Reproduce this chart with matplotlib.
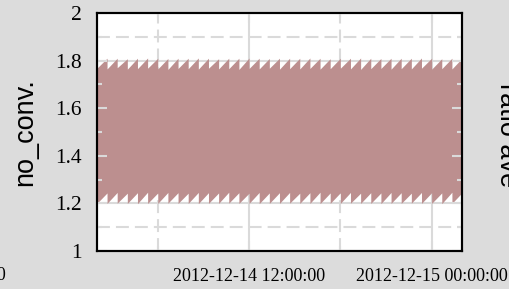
import matplotlib
matplotlib.use("Agg")
import matplotlib.pyplot as plt
import matplotlib.dates as mdates
from matplotlib.ticker import MultipleLocator, StrMethodFormatter
import pandas as pd

plt.rcParams.update({
    "font.family": "Liberation Serif",
    "font.size": 13,
})

C_BG = "#dcdcdc"
C_GRID = "#dadada"
C_FILL = "#bc8f8f"

# one sawtooth cycle every 40 minutes across the day
tooth_edges = pd.date_range("2012-12-14 02:00", "2012-12-15 02:00", freq="40min")

upper_top = [1.810, 1.810, 1.808, 1.810, 1.811, 1.810, 1.809, 1.810, 1.810, 1.811,
             1.810, 1.808, 1.810, 1.810, 1.811, 1.810, 1.809, 1.810, 1.810, 1.810,
             1.811, 1.810, 1.808, 1.810, 1.810, 1.811, 1.810, 1.809, 1.810, 1.810,
             1.810, 1.811, 1.810, 1.808, 1.810, 1.810]
upper_dip = [1.768, 1.765, 1.770, 1.764, 1.766, 1.768, 1.765, 1.763, 1.767, 1.766,
             1.764, 1.768, 1.765, 1.766, 1.763, 1.767, 1.765, 1.768, 1.764, 1.766,
             1.765, 1.767, 1.764, 1.766, 1.768, 1.765, 1.763, 1.766, 1.767, 1.764,
             1.766, 1.765, 1.768, 1.764, 1.766, 1.765]
lower_base = [1.200, 1.200, 1.201, 1.200, 1.199, 1.200, 1.200, 1.201, 1.200, 1.200,
              1.199, 1.200, 1.200, 1.201, 1.200, 1.200, 1.199, 1.200, 1.200, 1.201,
              1.200, 1.200, 1.199, 1.200, 1.200, 1.201, 1.200, 1.200, 1.199, 1.200,
              1.200, 1.201, 1.200, 1.200, 1.199, 1.200]
lower_apex = [1.244, 1.246, 1.243, 1.245, 1.247, 1.244, 1.246, 1.245, 1.243, 1.246,
              1.245, 1.244, 1.247, 1.245, 1.243, 1.246, 1.244, 1.245, 1.246, 1.243,
              1.245, 1.247, 1.244, 1.245, 1.246, 1.243, 1.245, 1.244, 1.246, 1.245,
              1.243, 1.246, 1.245, 1.244, 1.247, 1.245]

# envelope polygon: each cycle ramps up linearly, then drops back at the next edge
xs, up, lo = [], [], []
for k in range(len(upper_top)):
    xs += [tooth_edges[k], tooth_edges[k + 1]]
    up += [upper_dip[k], upper_top[k]]
    lo += [lower_base[k], lower_apex[k]]

fig = plt.figure(figsize=(5.1, 2.89), dpi=100, facecolor=C_BG)
ax = fig.add_axes([0.190, 0.1315, 0.716, 0.8235])
ax.set_facecolor("white")
ax.set_axisbelow(True)
ax.fill_between(xs, lo, up, color=C_FILL, linewidth=0, zorder=1)

ax.set_xlim(tooth_edges[0], tooth_edges[-1])
ax.set_ylim(1, 2)
ax.xaxis.set_major_locator(mdates.HourLocator(byhour=[0, 12]))
ax.xaxis.set_minor_locator(mdates.HourLocator(byhour=[0, 6, 12, 18]))
ax.xaxis.set_major_formatter(mdates.DateFormatter("%Y-%m-%d %H:%M:%S"))
ax.yaxis.set_major_locator(MultipleLocator(0.2))
ax.yaxis.set_minor_locator(MultipleLocator(0.1))
ax.yaxis.set_major_formatter(StrMethodFormatter("{x:g}"))

ax.grid(which="major", color=C_GRID, linewidth=1.5, linestyle="-")
ax.grid(which="minor", color=C_GRID, linewidth=1.5, linestyle=(0, (6.2, 2.9)))
ax.tick_params(which="both", length=0)
ax.tick_params(axis="y", pad=11, labelsize=15.5)
ax.tick_params(axis="x", pad=12, labelsize=13)
for s in ax.spines.values():
    s.set_linewidth(1.5)
    s.set_color("black")

ax.set_ylabel("no_conv.", fontfamily="Liberation Sans", fontsize=19.5, labelpad=12)

# overlay axes: light tick marks on top of the filled band
ov = fig.add_axes(ax.get_position(), sharex=ax, sharey=ax)
ov.patch.set_visible(False)
ov.tick_params(which="both", direction="in", color=C_GRID, width=1.5,
               left=True, right=True, top=True, bottom=True,
               labelleft=False, labelbottom=False)
ov.tick_params(which="major", length=7.2)
ov.tick_params(which="minor", length=3.6)
for s in ov.spines.values():
    s.set_linewidth(1.5)
    s.set_color("black")

# neighbouring panels' labels, cut by the figure edges as in the source
fig.text(494 / 510, 0.533, "ratio ave", rotation=270, ha="left", va="center",
         fontfamily="Liberation Sans", fontsize=19.5)
fig.text(6 / 510, 0.048, "2012-12-15 00:00:00", ha="right", va="center", fontsize=13)

fig.savefig("out.png", dpi=100, facecolor=C_BG)
